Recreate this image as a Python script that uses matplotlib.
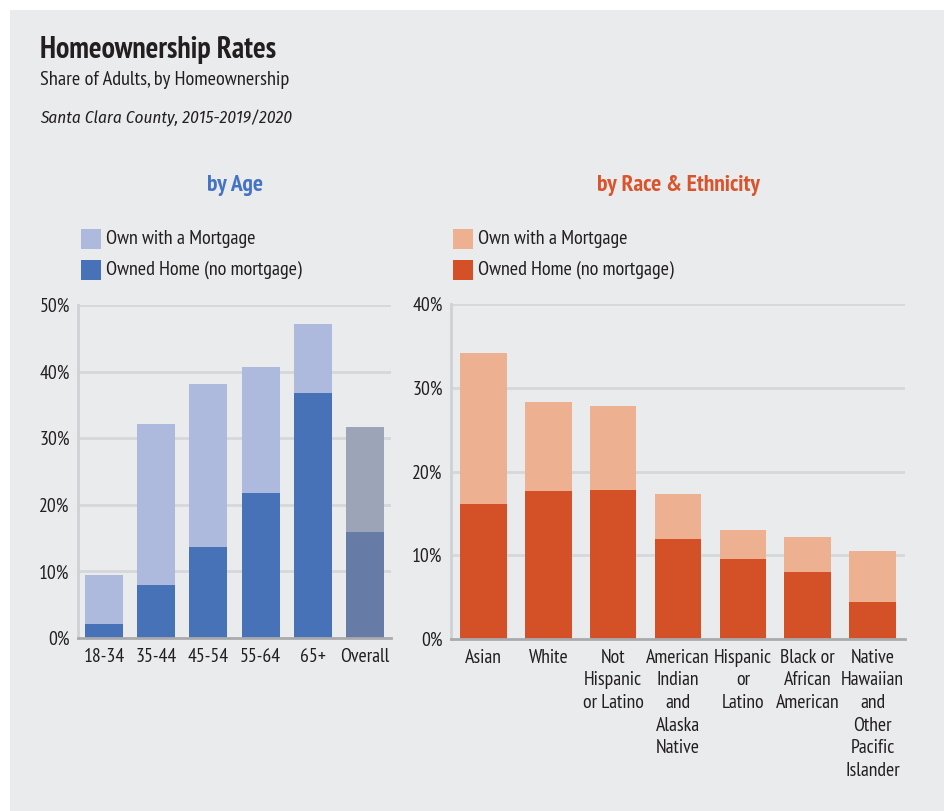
import matplotlib
matplotlib.use("Agg")
import matplotlib.pyplot as plt
from matplotlib.patches import Rectangle
import numpy as np

plt.rcParams['font.family'] = ['PT Sans Narrow', 'DejaVu Sans']

# ---- data ----
age_groups = ["18-34", "35-44", "45-54", "55-64", "65+", "Overall"]
age_owned = [2.1, 8.0, 13.7, 21.8, 36.8, 15.9]
age_mortgage = [7.4, 24.1, 24.4, 18.9, 10.3, 15.8]

race_groups = ["Asian", "White", "Not\nHispanic\nor Latino",
               "American\nIndian\nand\nAlaska\nNative",
               "Hispanic\nor\nLatino", "Black or\nAfrican\nAmerican",
               "Native\nHawaiian\nand\nOther\nPacific\nIslander"]
race_owned = [16.1, 17.7, 17.8, 11.9, 9.5, 8.0, 4.4]
race_mortgage = [18.0, 10.6, 10.0, 5.4, 3.5, 4.2, 6.1]

age_ticks = [0, 10, 20, 30, 40, 50]
race_ticks = [0, 10, 20, 30, 40]

W, H = 944, 811
BG = "#eaebed"
TXT = "#231f20"
fig = plt.figure(figsize=(W / 100, H / 100), dpi=100, facecolor="white")
fig.patches.append(Rectangle((10 / W, 0), 1 - 10 / W, 1 - 10 / H,
                             transform=fig.transFigure, facecolor=BG,
                             edgecolor="none", zorder=-10))

def fx(px):
    return px / W

def fy(py):
    return 1 - py / H

fig.text(fx(40), fy(50), "Homeownership Rates", fontsize=21.5, weight="bold",
         color=TXT, va="center", ha="left")
fig.text(fx(40), fy(80), "Share of Adults, by Homeownership", fontsize=14.7,
         color=TXT, va="center", ha="left")
fig.text(fx(40), fy(118), "Santa Clara County, 2015-2019/2020", fontsize=12.4,
         style="italic", color=TXT, va="center", ha="left",
         family=["Fira Sans Condensed", "PT Sans Narrow", "DejaVu Sans"])


def panel(ax_rect, cats, owned, mort, ticks, light, dark, title, title_color,
          title_x, leg_x, width, special_last=None):
    ax = fig.add_axes(ax_rect)
    ax.set_facecolor("none")
    x = np.arange(len(cats))
    lc = list(light for _ in cats)
    dc = list(dark for _ in cats)
    if special_last is not None:
        lc[-1] = special_last[0]
        dc[-1] = special_last[1]
    ax.bar(x, owned, width=width, color=dc, zorder=3)
    ax.bar(x, mort, bottom=owned, width=width, color=lc, zorder=3)
    ax.set_xlim(-0.5, len(cats) - 0.5)
    ax.set_ylim(0, ticks[-1])
    ax.set_yticks(ticks)
    ax.set_yticklabels([f"{t}%" for t in ticks])
    ax.set_xticks(x)
    ax.set_xticklabels(cats, linespacing=1.33)
    ax.tick_params(axis="both", length=0, labelsize=14.2, colors=TXT)
    ax.tick_params(axis="y", pad=6)
    ax.tick_params(axis="x", pad=7)
    for t in ticks[1:]:
        ax.axhline(t, color="#d6d7da", lw=2, zorder=1)
    for s in ["top", "right"]:
        ax.spines[s].set_visible(False)
    ax.spines["left"].set_color("#d0d1d4")
    ax.spines["left"].set_linewidth(2)
    ax.spines["bottom"].set_color("#a9aaad")
    ax.spines["bottom"].set_linewidth(2)
    ax.spines["bottom"].set_zorder(4)
    fig.text(fx(title_x), fy(185), title, fontsize=17, weight="bold",
             color=title_color, ha="center", va="center")
    for i, (lab, col) in enumerate([("Own with a Mortgage", light),
                                    ("Owned Home (no mortgage)", dark)]):
        y0 = 229 + i * 31
        fig.patches.append(Rectangle((fx(leg_x), fy(y0 + 20)), 20 / W, 20 / H,
                                     transform=fig.transFigure, facecolor=col,
                                     edgecolor="none"))
        fig.text(fx(leg_x + 25), fy(y0 + 10), lab, fontsize=14.5, color=TXT,
                 ha="left", va="center")
    return ax

panel([fx(78), fy(638), fx(391 - 78), (638 - 305) / H], age_groups, age_owned,
      age_mortgage, age_ticks, "#adb9dd", "#4872b8", "by Age", "#4472c4",
      235, 81, 0.73, special_last=("#9ca5b8", "#667ba5"))

panel([fx(451), fy(639), fx(905 - 451), (639 - 304) / H], race_groups,
      race_owned, race_mortgage, race_ticks, "#edb192", "#d45026",
      "by Race & Ethnicity", "#d9532b", 678, 453, 0.72)

fig.savefig("out.png", dpi=100, facecolor="white")
